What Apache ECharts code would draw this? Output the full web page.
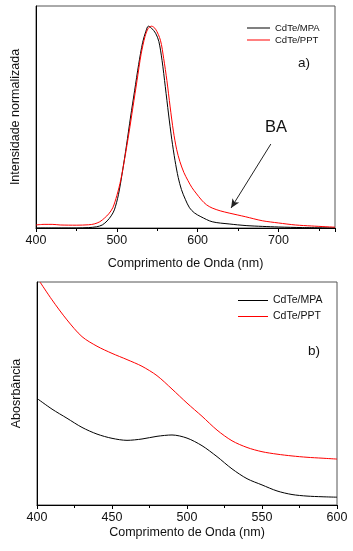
<!DOCTYPE html>
<html>
<head>
<meta charset="utf-8">
<script src="https://cdn.jsdelivr.net/npm/echarts@6/dist/echarts.min.js"></script>
<style>
  html, body { margin: 0; padding: 0; background: #fff; }
  #main { width: 353px; height: 551px; }
</style>
</head>
<body>
<div id="main"></div>
<script>
// a) emissão normalizada
var wlMPA = [400, 450, 465, 475, 482, 488, 493, 497, 502, 507, 512, 517, 522, 527, 532, 536, 539, 543, 548, 552, 556, 560, 564, 568, 572, 576, 580, 585, 590, 596, 604, 618, 639, 660, 680, 700, 730, 770];
var plMPA = [0, 0, 0.002, 0.006, 0.015, 0.035, 0.06, 0.09, 0.165, 0.28, 0.41, 0.55, 0.68, 0.81, 0.92, 0.975, 1.0, 0.99, 0.965, 0.925, 0.83, 0.7, 0.565, 0.44, 0.335, 0.25, 0.19, 0.14, 0.1, 0.075, 0.056, 0.031, 0.02, 0.012, 0.008, 0.005, 0.002, 0];
var wlPPT = [400, 410, 420, 430, 450, 465, 472, 479, 485, 490, 495, 500, 505, 510, 515, 520, 525, 530, 535, 539, 543, 548, 554, 558, 562, 566, 570, 574, 578, 583, 588, 593, 598, 605, 611, 618, 628, 639, 659, 680, 700, 721, 741, 770];
var plPPT = [0.015, 0.018, 0.018, 0.015, 0.014, 0.016, 0.02, 0.031, 0.05, 0.07, 0.1, 0.16, 0.24, 0.35, 0.47, 0.6, 0.73, 0.86, 0.95, 0.99, 1.0, 0.985, 0.93, 0.84, 0.73, 0.6, 0.48, 0.39, 0.33, 0.275, 0.235, 0.2, 0.173, 0.138, 0.115, 0.099, 0.085, 0.074, 0.056, 0.036, 0.025, 0.015, 0.01, 0.004];

// b) absorbância
var wlAbsMPA = [400, 410, 420, 430, 440, 450, 460, 470, 480, 490, 500, 510, 520, 530, 540, 550, 560, 570, 580, 590, 600];
var absMPA = [0.478, 0.43, 0.389, 0.348, 0.318, 0.299, 0.29, 0.296, 0.308, 0.314, 0.3, 0.266, 0.217, 0.162, 0.118, 0.09, 0.063, 0.047, 0.04, 0.037, 0.035];
var wlAbsPPT = [402, 410, 420, 430, 440, 450, 460, 470, 480, 490, 500, 510, 520, 530, 540, 550, 560, 570, 580, 590, 600];
var absPPT = [1.0, 0.92, 0.83, 0.755, 0.712, 0.68, 0.652, 0.622, 0.58, 0.52, 0.457, 0.398, 0.336, 0.288, 0.258, 0.239, 0.228, 0.22, 0.214, 0.21, 0.206];

// seta "BA"
var arrowFrom = [690.6, 0.416];
var arrowTo = [641.4, 0.099];

function pairs(xs, ys) {
  return xs.map(function (x, i) { return [x, ys[i]]; });
}

var font = "'Liberation Sans', Arial, sans-serif";
var chart = echarts.init(document.getElementById('main'));

var xAxisBase = {
  type: 'value',
  nameLocation: 'middle',
  nameTextStyle: { fontFamily: font, fontSize: 12.5, color: '#111' },
  axisLine: { onZero: false, lineStyle: { color: '#000', width: 1 } },
  axisTick: { length: 4, lineStyle: { color: '#000' } },
  minorTick: { show: true, splitNumber: 2, length: 3, lineStyle: { color: '#000' } },
  axisLabel: { fontFamily: font, fontSize: 12.5, color: '#111', margin: 6, showMaxLabel: true },
  splitLine: { show: false }
};
var yAxisBase = {
  type: 'value',
  nameLocation: 'middle',
  nameGap: 14,
  nameTextStyle: { fontFamily: font, fontSize: 12.5, color: '#111' },
  axisLine: { show: true, lineStyle: { color: '#000', width: 1 } },
  axisTick: { show: false },
  axisLabel: { show: false },
  splitLine: { show: false }
};

var lineBase = { type: 'line', symbol: 'none', smooth: 0.3 };

chart.setOption({
  animation: false,
  backgroundColor: '#fff',
  grid: [
    { left: 36, right: 18, top: 6, bottom: 323, show: true, borderColor: '#555', borderWidth: 1 },
    { left: 37, right: 16, top: 282, bottom: 46, show: true, borderColor: '#555', borderWidth: 1 }
  ],
  xAxis: [
    Object.assign({}, xAxisBase, {
      gridIndex: 0, min: 400, max: 770, interval: 100,
      name: 'Comprimento de Onda (nm)', nameGap: 29,
      axisLabel: Object.assign({}, xAxisBase.axisLabel, { showMaxLabel: false })
    }),
    Object.assign({}, xAxisBase, {
      gridIndex: 1, min: 400, max: 600, interval: 50,
      name: 'Comprimento de Onda (nm)', nameGap: 21
    })
  ],
  yAxis: [
    Object.assign({}, yAxisBase, { gridIndex: 0, min: 0, max: 1.1, name: 'Intensidade normalizada' }),
    Object.assign({}, yAxisBase, { gridIndex: 1, min: 0, max: 1, name: 'Abosrbância' })
  ],
  legend: [
    {
      left: 242, top: 18, orient: 'vertical', icon: 'rect',
      itemWidth: 23, itemHeight: 1, itemGap: 2,
      textStyle: { fontFamily: font, fontSize: 9.5, color: '#111' },
      data: ['CdTe/MPA', 'CdTe/PPT']
    },
    {
      left: 233, top: 290, orient: 'vertical', icon: 'rect',
      itemWidth: 30, itemHeight: 1, itemGap: 5,
      textStyle: { fontFamily: font, fontSize: 10.5, color: '#111' },
      data: ['CdTe/MPA', 'CdTe/PPT']
    }
  ],
  graphic: [
    { type: 'text', left: 298, top: 56, style: { text: 'a)', font: '13.5px ' + font, fill: '#111' } },
    { type: 'text', left: 265, top: 119, style: { text: 'BA', font: '16.5px ' + font, fill: '#111' } },
    { type: 'text', left: 308, top: 344, style: { text: 'b)', font: '13.5px ' + font, fill: '#111' } }
  ],
  series: [
    Object.assign({}, lineBase, {
      name: 'CdTe/MPA', xAxisIndex: 0, yAxisIndex: 0,
      data: pairs(wlMPA, plMPA),
      lineStyle: { color: '#000', width: 1 }, itemStyle: { color: '#000' }
    }),
    Object.assign({}, lineBase, {
      name: 'CdTe/PPT', xAxisIndex: 0, yAxisIndex: 0,
      data: pairs(wlPPT, plPPT),
      lineStyle: { color: '#ff0000', width: 1 }, itemStyle: { color: '#ff0000' },
      markLine: {
        silent: true, animation: false,
        symbol: ['none', 'arrow'], symbolSize: [6, 9],
        lineStyle: { color: '#222', width: 1, type: 'solid' },
        label: { show: false },
        data: [[{ coord: arrowFrom }, { coord: arrowTo }]]
      }
    }),
    Object.assign({}, lineBase, {
      name: 'CdTe/MPA', xAxisIndex: 1, yAxisIndex: 1,
      data: pairs(wlAbsMPA, absMPA),
      lineStyle: { color: '#000', width: 1 }, itemStyle: { color: '#000' }
    }),
    Object.assign({}, lineBase, {
      name: 'CdTe/PPT', xAxisIndex: 1, yAxisIndex: 1,
      data: pairs(wlAbsPPT, absPPT),
      lineStyle: { color: '#ff0000', width: 1 }, itemStyle: { color: '#ff0000' }
    })
  ]
});
</script>
</body>
</html>
